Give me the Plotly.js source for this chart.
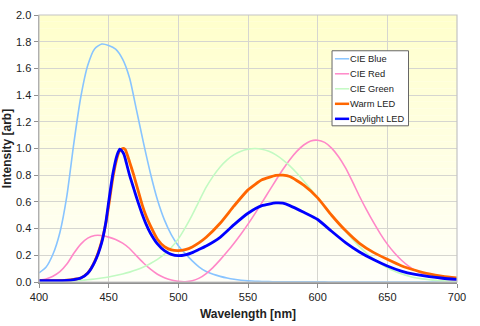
<!DOCTYPE html>
<html>
<head>
<meta charset="utf-8">
<script src="https://cdn.plot.ly/plotly-3.0.1.min.js"></script>
<style>html,body{margin:0;padding:0;background:#fff;}#chart{width:480px;height:326px;}</style>
</head>
<body>
<div id="chart"></div>
<script>
// CIE 1931 colour matching functions, 5 nm steps
const cieWavelengths = [400,405,410,415,420,425,430,435,440,445,450,455,460,465,470,475,480,485,490,495,500,505,510,515,520,525,530,535,540,545,550,555,560,565,570,575,580,585,590,595,600,605,610,615,620,625,630,635,640,645,650,655,660,665,670,675,680,685,690,695,700];
const cieRed = [0.0143,0.0232,0.0435,0.0776,0.1344,0.2148,0.2839,0.3285,0.3483,0.3481,0.3362,0.3187,0.2908,0.2511,0.1954,0.1421,0.0956,0.0580,0.0320,0.0147,0.0049,0.0024,0.0093,0.0291,0.0633,0.1096,0.1655,0.2258,0.2904,0.3597,0.4335,0.5121,0.5945,0.6784,0.7621,0.8425,0.9163,0.9786,1.0263,1.0567,1.0622,1.0456,1.0026,0.9384,0.8545,0.7514,0.6424,0.5419,0.4479,0.3608,0.2835,0.2187,0.1649,0.1212,0.0874,0.0636,0.0468,0.0329,0.0227,0.0158,0.0114];
const cieGreen = [0.0004,0.0006,0.0012,0.0022,0.0040,0.0073,0.0116,0.0168,0.0230,0.0298,0.0380,0.0480,0.0600,0.0739,0.0910,0.1126,0.1390,0.1693,0.2080,0.2586,0.3230,0.4073,0.5030,0.6082,0.7100,0.7932,0.8620,0.9149,0.9540,0.9803,0.9950,1.0000,0.9950,0.9786,0.9520,0.9154,0.8700,0.8163,0.7570,0.6949,0.6310,0.5668,0.5030,0.4412,0.3810,0.3210,0.2650,0.2170,0.1750,0.1382,0.1070,0.0816,0.0610,0.0446,0.0320,0.0232,0.0170,0.0119,0.0082,0.0057,0.0041];
const cieBlue = [0.0679,0.1102,0.2074,0.3713,0.6456,1.0391,1.3856,1.6230,1.7471,1.7826,1.7721,1.7441,1.6692,1.5281,1.2876,1.0419,0.8130,0.6162,0.4652,0.3533,0.2720,0.2123,0.1582,0.1117,0.0783,0.0573,0.0422,0.0298,0.0203,0.0134,0.0088,0.0058,0.0039,0.0028,0.0021,0.0018,0.0017,0.0014,0.0011,0.0010,0.0008,0.0006,0.0003,0.0002,0.0002,0.0001,0.0001,0,0,0,0,0,0,0,0,0,0,0,0,0,0];

// LED spectra
const ledWavelengths = [400,410,420,425,430,435,440,445,448,450,453,456,458,460,461,462,465,468,471,474,477,480,485,490,495,500,505,510,515,520,530,540,550,560,570,575,580,590,600,610,620,630,640,650,660,670,680,690,700];
const warmLED = [0.010,0.010,0.014,0.020,0.030,0.068,0.155,0.305,0.44,0.57,0.78,0.93,0.985,1.0,1.0,0.99,0.90,0.80,0.69,0.58,0.49,0.42,0.32,0.265,0.240,0.235,0.243,0.263,0.295,0.335,0.440,0.570,0.690,0.765,0.798,0.800,0.790,0.725,0.630,0.500,0.385,0.290,0.222,0.170,0.122,0.088,0.060,0.042,0.030];
const daylightLED = [0.010,0.010,0.012,0.018,0.030,0.065,0.150,0.295,0.45,0.60,0.81,0.95,0.995,0.975,0.955,0.92,0.80,0.70,0.60,0.51,0.43,0.365,0.285,0.235,0.207,0.197,0.203,0.220,0.245,0.270,0.335,0.430,0.515,0.572,0.592,0.590,0.572,0.522,0.468,0.380,0.295,0.225,0.168,0.120,0.082,0.057,0.040,0.028,0.020];

const seriesNames = ["CIE Blue","CIE Red","CIE Green","Warm LED","Daylight LED"];
const seriesColors = ["#88C4FF","#FF88C8","#C2FAC2","#FF6600","#0000FF"];
const seriesWidths = [1.6,1.6,1.6,2.8,2.8];
const tickLabelsY = ["0.0","0.2","0.4","0.6","0.8","1.0","1.2","1.4","1.6","1.8","2.0"];

const seriesX = [cieWavelengths, cieWavelengths, cieWavelengths, ledWavelengths, ledWavelengths];
const seriesY = [cieBlue, cieRed, cieGreen, warmLED, daylightLED];

const traces = seriesNames.map((name, i) => ({
  type: "scatter", mode: "lines", hoverinfo: "skip", name: name,
  x: seriesX[i], y: seriesY[i],
  line: {color: seriesColors[i], width: seriesWidths[i], shape: "spline", smoothing: i < 3 ? 0.6 : 0.5}
}));

// vertical background gradient (pale yellow to near white)
const shapes = [];
const bands = 40;
function mix(a, b, t) { return Math.round(a + (b - a) * t); }
for (let i = 0; i < bands; i++) {
  const t = i / (bands - 1);
  const bl = mix(204, 248, t);
  shapes.push({type: "rect", xref: "paper", yref: "paper", x0: 0, x1: 1,
    y0: 1 - (i + 1) / bands, y1: 1 - i / bands, layer: "below",
    line: {width: 0}, fillcolor: `rgb(255,255,${bl})`});
}
shapes.push({type: "rect", xref: "paper", yref: "paper", x0: 0, x1: 1, y0: 0, y1: 1,
  layer: "above", line: {color: "#C4C4C4", width: 1.2}, fillcolor: "rgba(0,0,0,0)"});

// compact legend box (Excel style)
const annotations = [];
const legX0 = 0.701, legX1 = 0.884, legY0 = 0.585, legY1 = 0.866;
shapes.push({type: "rect", xref: "paper", yref: "paper", x0: legX0, x1: legX1, y0: legY0, y1: legY1,
  layer: "above", line: {color: "#666", width: 1}, fillcolor: "#FFFFFF"});
const legRowH = 0.0562;
seriesNames.forEach((name, i) => {
  const yy = 0.836 - i * legRowH;
  shapes.push({type: "line", xref: "paper", yref: "paper", x0: 0.708, x1: 0.742, y0: yy, y1: yy,
    layer: "above", line: {color: seriesColors[i], width: i < 3 ? 1.5 : 2.5}});
  annotations.push({xref: "paper", yref: "paper", x: 0.742, y: yy, xanchor: "left", yanchor: "middle",
    text: name, showarrow: false, font: {size: 9.3, color: "#222"}, xshift: -1});
});

const layout = {
  width: 480, height: 326,
  margin: {l: 39, r: 23, t: 15, b: 44},
  paper_bgcolor: "#FFFFFF",
  plot_bgcolor: "rgba(0,0,0,0)",
  font: {family: "Liberation Sans, Arial, sans-serif", size: 11, color: "#222"},
  showlegend: false,
  xaxis: {range: [400, 700], dtick: 50, tick0: 400, showgrid: true, gridcolor: "#D6D6D0",
    gridwidth: 1, zeroline: false, showline: true, linecolor: "#909090", linewidth: 1.5,
    ticks: "outside", ticklen: 4, tickcolor: "#909090",
    title: {text: "<b>Wavelength [nm]</b>", font: {size: 12}, standoff: 8}},
  yaxis: {range: [0, 2], tickvals: tickLabelsY.map(Number), ticktext: tickLabelsY,
    showgrid: true, gridcolor: "#D6D6D0", gridwidth: 1, zeroline: false,
    showline: true, linecolor: "#909090", linewidth: 1.5,
    ticks: "outside", ticklen: 4, tickcolor: "#909090",
    title: {text: "<b>Intensity [arb]</b>", font: {size: 12}, standoff: 4}},
  shapes: shapes,
  annotations: annotations
};

Plotly.newPlot("chart", traces, layout, {staticPlot: true, displayModeBar: false});
</script>
</body>
</html>
